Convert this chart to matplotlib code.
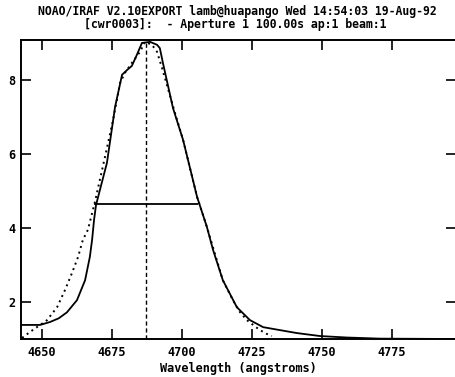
import matplotlib
matplotlib.use("Agg")
import matplotlib.pyplot as plt

# Observed spectrum (solid)
obs_wave = [4642.5, 4649.3, 4652.9, 4656.0, 4658.9, 4662.5, 4665.4, 4667.1, 4667.9, 4668.6, 4669.3,
            4673.2, 4676.1, 4678.6, 4680.4, 4682.1, 4683.9, 4685.7, 4688.6, 4691.1, 4692.1,
            4693.2, 4696.8, 4700.4, 4705.4, 4708.9, 4711.1, 4714.6, 4719.6, 4724.3, 4729.0,
            4735.0, 4741.1, 4749.3, 4758.9, 4770.7, 4797.9]
obs_flux = [1.38, 1.38, 1.46, 1.56, 1.72, 2.05, 2.59, 3.22, 3.68, 4.22, 4.62,
            5.76, 7.27, 8.14, 8.27, 8.38, 8.68, 9.00, 9.03, 8.95, 8.86,
            8.46, 7.24, 6.38, 4.84, 4.03, 3.41, 2.59, 1.86, 1.51, 1.32,
            1.24, 1.16, 1.08, 1.04, 1.01, 1.00]

# Fit profile (dotted)
fit_wave = [4642.9, 4645.7, 4651.8, 4655.4, 4658.2, 4660.7, 4662.9, 4664.6, 4666.4, 4668.9,
            4672.5, 4675.4, 4677.9, 4679.6, 4682.1, 4685.0, 4686.8, 4689.3, 4691.1, 4692.9,
            4697.5, 4700.4, 4705.4, 4708.9, 4714.6, 4718.2, 4720.7, 4723.2, 4726.8, 4729.6,
            4732.1]
fit_flux = [1.03, 1.19, 1.51, 1.86, 2.32, 2.78, 3.22, 3.68, 3.95, 4.70,
            5.92, 6.92, 7.92, 8.19, 8.46, 8.76, 9.03, 8.95, 8.76, 8.32,
            7.11, 6.38, 4.84, 4.03, 2.59, 2.05, 1.73, 1.51, 1.30, 1.16,
            1.08]

center_wave = 4687.1
half_level = 4.65
half_range = [4668.5, 4705.6]

x_ticks = [4650, 4675, 4700, 4725, 4750, 4775]
y_ticks = [2, 4, 6, 8]

title1 = "NOAO/IRAF V2.10EXPORT lamb@huapango Wed 14:54:03 19-Aug-92"
title2 = "[cwr0003]:  - Aperture 1 100.00s ap:1 beam:1"
xlabel = "Wavelength (angstroms)"

font = dict(family="DejaVu Sans Mono", weight="bold")
fs = 8.6

fig = plt.figure(figsize=(4.56, 3.77), dpi=100)
ax = fig.add_axes([21/456, 38/377, 1 - 21/456, 299/377])

ax.plot(obs_wave, obs_flux, color="black", lw=1.3, solid_joinstyle="round")
ax.plot(fit_wave, fit_flux, color="black", lw=1.4, linestyle=(0, (1, 2)))
ax.axvline(center_wave, color="black", lw=1.0, linestyle=(0, (3, 2)))
ax.hlines(half_level, half_range[0], half_range[1], color="black", lw=1.3)

ax.set_xlim(4642.5, 4797.9)
ax.set_ylim(1.0, 9.08)
ax.set_xticks(x_ticks)
ax.set_yticks(y_ticks)
ax.set_xticklabels([str(t) for t in x_ticks], fontsize=fs, **font)
ax.set_yticklabels([str(t) for t in y_ticks], fontsize=fs, **font)
ax.tick_params(axis="both", direction="in", length=7, width=1.2, top=True, right=True)
ax.tick_params(axis="x", pad=5)
ax.tick_params(axis="y", pad=4)
for side in ["left", "bottom", "top"]:
    ax.spines[side].set_linewidth(1.4)
ax.spines["right"].set_visible(False)

ax.set_xlabel(xlabel, fontsize=fs, labelpad=2, **font)
fig.text(0.52, 1 - 11/377, title1, ha="center", va="center", fontsize=8.3, **font)
fig.text(0.515, 1 - 24.5/377, title2, ha="center", va="center", fontsize=8.3, **font)

fig.savefig("out.png", dpi=100)
